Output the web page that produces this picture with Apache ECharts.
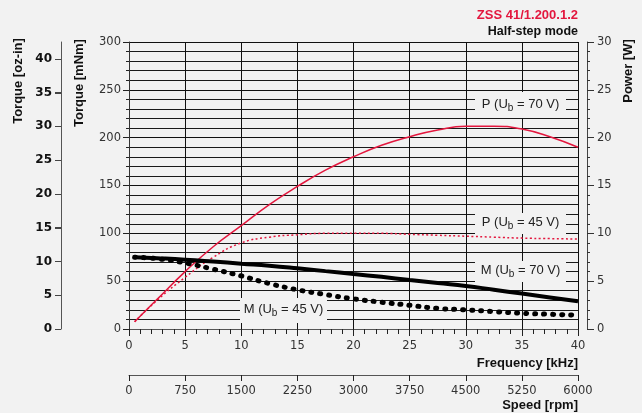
<!DOCTYPE html>
<html>
<head>
<meta charset="utf-8">
<script src="https://cdn.jsdelivr.net/npm/echarts@6/dist/echarts.min.js"></script>
<style>
  html, body { margin: 0; padding: 0; background: #f2f2f2; }
  #chart { width: 642px; height: 413px; }
</style>
</head>
<body>
<div id="chart"></div>
<script>
// frequency points in kHz
const freq = [0.5, 2.5, 5, 7.5, 10, 12.5, 15, 17.5, 20, 22.5, 25, 27.5, 30, 32.5, 35, 37.5, 40]
// power [W]
const p70 = [0.75, 3.1, 6.0, 8.6, 10.8, 13.0, 14.9, 16.6, 18.0, 19.2, 20.1, 20.8, 21.2, 21.2, 20.9, 20.1, 19.0]
const p45 = [0.75, 3.0, 5.4, 7.5, 9.0, 9.6, 9.85, 10.0, 10.0, 10.0, 9.9, 9.8, 9.7, 9.6, 9.5, 9.45, 9.4]
// torque [mNm]
const m70 = [75, 74, 72.5, 70.5, 68.3, 66.2, 63.5, 60.5, 57.5, 54.5, 51.2, 48, 45, 41, 37, 33, 29]
const m45 = [75, 73.5, 69, 62.5, 55.5, 47.5, 41, 36, 31.5, 28, 24.8, 21.5, 20, 18.2, 16.5, 15.4, 14.5]

// oz-in tick labels, placed on an mNm-scaled axis
const ozTicks = [0, 5, 10, 15, 20, 25, 30, 35, 40]
const mNmPerOzIn = 7.0616
const ozPos = ozTicks.map(v => v * mNmPerOzIn)

const red = '#e3173e'
const numFont = 'DejaVu Sans'
const txtFont = 'Liberation Sans'

const pairs = (ys) => freq.map((f, i) => [f, ys[i]])

let chart = echarts.init(document.getElementById('chart'))

// boxed curve labels
const tag = (x, y, w, h, letter, volt) => ([
  { type: 'rect', z: 50, shape: { x: x, y: y, width: w, height: h }, style: { fill: '#f2f2f2' } },
  {
    type: 'text', z: 51, x: x + w / 2, y: y + h / 2 - 1,
    style: {
      text: '{a|' + letter + ' (U}{s|b}{a| = ' + volt + ' V)}',
      align: 'center', verticalAlign: 'middle',
      rich: {
        a: { fontFamily: txtFont, fontSize: 13, fill: '#222' },
        s: { fontFamily: txtFont, fontSize: 10, fill: '#222', padding: [8, 0, 0, 0] }
      }
    }
  }
])

const label = (text, x, y, extra) => ({
  type: 'text', x: x, y: y, rotation: extra.rotation || 0,
  style: {
    text: text, fontFamily: txtFont, fontWeight: 'bold', fontSize: extra.size || 13,
    fill: extra.color || '#111', align: extra.align || 'center', verticalAlign: 'middle'
  }
})

const gridLeft = 129
const ozOffset = 68

chart.setOption({
  backgroundColor: '#f2f2f2',
  animation: false,
  grid: { left: gridLeft, right: 64, top: 42, bottom: 84 },
  xAxis: [
    {
      type: 'value', min: 0, max: 40, interval: 5, position: 'bottom',
      axisLine: { onZero: false, lineStyle: { color: '#555' } },
      axisTick: { length: 7, lineStyle: { color: '#222' } },
      minorTick: { show: true, splitNumber: 5, length: 5, lineStyle: { color: '#222' } },
      axisLabel: { margin: 11, fontFamily: numFont, fontSize: 11.5, color: '#333' },
      splitLine: { show: true, lineStyle: { color: '#111', width: 1 } }
    },
    {
      type: 'value', min: 0, max: 6000, interval: 750, position: 'bottom', offset: 46,
      axisLine: { show: true, onZero: false, lineStyle: { color: '#555' } },
      axisTick: { length: 6, lineStyle: { color: '#222' } },
      axisLabel: { margin: 10, fontFamily: numFont, fontSize: 11.5, color: '#333', formatter: (v) => String(v) },
      splitLine: { show: false }
    }
  ],
  yAxis: [
    {
      type: 'value', min: 0, max: 300, interval: 50, position: 'left',
      axisLine: { show: true, onZero: false, lineStyle: { color: '#333' } },
      axisTick: { show: true, length: 6, lineStyle: { color: '#222' } },
      minorTick: { show: true, splitNumber: 5, length: 3, lineStyle: { color: '#222' } },
      axisLabel: { margin: 8, fontFamily: numFont, fontSize: 11.5, color: '#333' },
      splitLine: { show: true, lineStyle: { color: '#111' } },
      minorSplitLine: { show: true, lineStyle: { color: '#1a1a1a' } }
    },
    {
      // torque in oz-in, same scale as the mNm axis
      type: 'value', min: 0, max: 300, position: 'left', offset: ozOffset,
      axisLine: { show: true, onZero: false, lineStyle: { color: '#555' } },
      axisTick: { show: true, length: 6, customValues: ozPos, lineStyle: { color: '#444' } },
      axisLabel: {
        margin: 9, customValues: ozPos, fontFamily: numFont, fontWeight: 'bold', fontSize: 12, color: '#111',
        formatter: (v) => String(Math.round(v / mNmPerOzIn))
      },
      splitLine: { show: false }
    },
    {
      type: 'value', min: 0, max: 30, interval: 5, position: 'right', offset: 9,
      axisLine: { show: true, onZero: false, lineStyle: { color: '#444' } },
      axisTick: { show: true, length: 7, lineStyle: { color: '#333' } },
      minorTick: { show: true, splitNumber: 5, length: 3, lineStyle: { color: '#333' } },
      axisLabel: { margin: 10, fontFamily: numFont, fontSize: 11.5, color: '#333' },
      splitLine: { show: false }
    }
  ],
  series: [
    {
      name: 'P 70', type: 'line', yAxisIndex: 2, data: pairs(p70), smooth: true, symbol: 'none', z: 5,
      lineStyle: { color: red, width: 1.5 }
    },
    {
      name: 'P 45', type: 'line', yAxisIndex: 2, data: pairs(p45), smooth: true, symbol: 'none', z: 4,
      lineStyle: { color: red, width: 1.5, type: [2, 2.5] }
    },
    {
      name: 'M 70', type: 'line', yAxisIndex: 0, data: pairs(m70), smooth: true, symbol: 'none', z: 6,
      lineStyle: { color: '#000', width: 4 }
    },
    {
      name: 'M 45', type: 'line', yAxisIndex: 0, data: pairs(m45), smooth: true, symbol: 'none', z: 6,
      lineStyle: { color: '#000', width: 5, type: [1, 8], cap: 'round' }
    }
  ]
})

// oz-in tick marks, placed through the axis scale
const axisX = gridLeft - ozOffset
const ozTickMarks = ozPos.map(v => {
  const y = Math.round(chart.convertToPixel({ yAxisIndex: 0 }, v)) + 0.5
  return { type: 'line', z: 40, shape: { x1: axisX - 6, y1: y, x2: axisX, y2: y }, style: { stroke: '#444', lineWidth: 1 } }
})

chart.setOption({
  graphic: [
    ...tag(475, 92, 91, 26, 'P', 70),
    ...tag(475, 213, 91, 21, 'P', 45),
    ...tag(475, 261, 91, 21, 'M', 70),
    ...tag(240, 298, 87, 25, 'M', 45),
    label('ZSS 41/1.200.1.2', 578, 15, { size: 13, color: red, align: 'right' }),
    label('Half-step mode', 578, 32, { size: 12.5, align: 'right' }),
    label('Torque [oz-in]', 18, 81, { rotation: Math.PI / 2 }),
    label('Torque [mNm]', 79, 83, { rotation: Math.PI / 2 }),
    label('Power [W]', 628, 71, { rotation: Math.PI / 2 }),
    label('Frequency [kHz]', 578, 363, { align: 'right' }),
    label('Speed [rpm]', 578, 405, { align: 'right' }),
    ...ozTickMarks
  ]
})
</script>
</body>
</html>
